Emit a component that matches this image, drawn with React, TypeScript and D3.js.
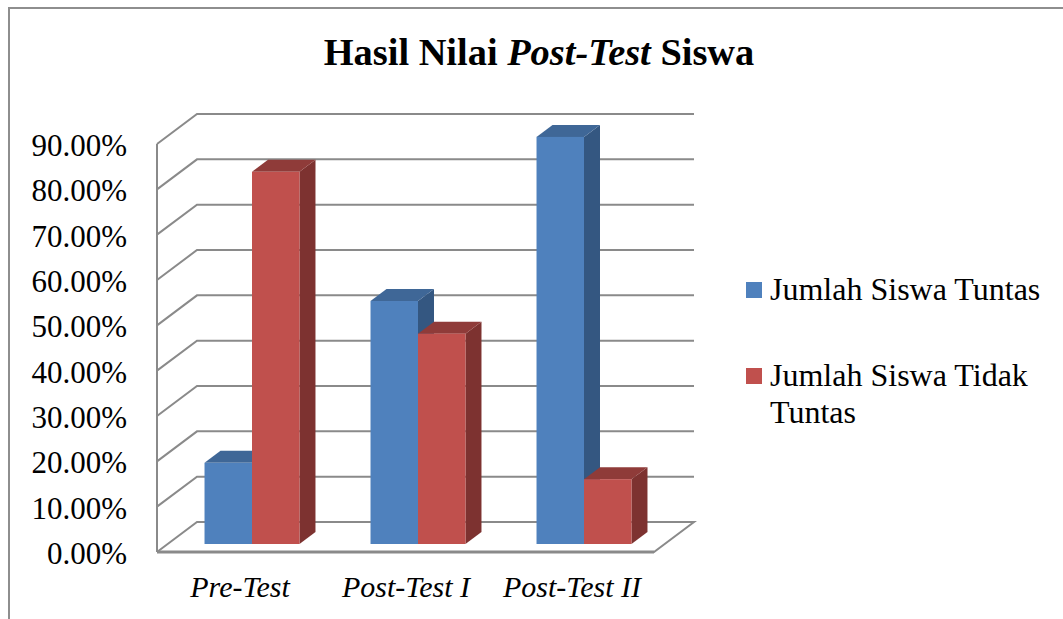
import React from "react";
import * as d3 from "d3";

const categories = ["Pre-Test", "Post-Test I", "Post-Test II"];
const seriesNames = ["Jumlah Siswa Tuntas", "Jumlah Siswa Tidak Tuntas"];
const tuntas = [17.9, 53.6, 89.8];
const tidakTuntas = [82.1, 46.4, 14.3];
const ticks = [0, 10, 20, 30, 40, 50, 60, 70, 80, 90];

const FONT = "'Liberation Serif', 'Times New Roman', serif";
const GRID = "#8a8a8a";
const COLORS = [
  { front: "#4f81bd", top: "#3f6797", side: "#345781" },
  { front: "#c0504d", top: "#8f3b39", side: "#7d3230" },
];

// wall plane (front-left edge of the 3D box)
const yWall = d3.scaleLinear().domain([0, 90]).range([552, 144]);
// plane the bars stand on
const yBar = d3.scaleLinear().domain([0, 90]).range([544, 136]);
const xGroup = d3.scaleBand<string>().domain(categories).range([169, 667]).paddingInner(0.428).paddingOuter(0.214);
const xSeries = d3.scaleBand<number>().domain([0, 1]).range([0, xGroup.bandwidth()]);

const WALL_X = 157;
const FLOOR_R = 654;
const DX = 40;
const DY = -30;
const BAR_DX = 16;
const BAR_DY = -12;

const poly = (pts: [number, number][]) => pts.map((p) => p.join(",")).join(" ");

export default function App() {
  const bars = categories.flatMap((c, i) =>
    [tuntas[i], tidakTuntas[i]].map((v, s) => ({ c, v, s, x: (xGroup(c) ?? 0) + (xSeries(s) ?? 0) }))
  );
  const w = xSeries.bandwidth();
  return (
    <svg
      width={1063}
      height={619}
      style={{ position: "absolute", left: 0, top: 0, background: "#fff", display: "block" }}
      fontFamily={FONT}
    >
      <path d="M9,619 V8 H1063" fill="none" stroke="#8e8e8e" strokeWidth={2} />
      <text x={539} y={65} textAnchor="middle" fontSize={38.4} fontWeight="bold" fill="#000">
        Hasil Nilai <tspan fontStyle="italic">Post-Test</tspan> Siswa
      </text>

      {/* gridlines */}
      {ticks.map((t) => {
        const y = yWall(t);
        return t === 0 ? (
          <polyline
            key={t}
            points={poly([
              [WALL_X, y],
              [WALL_X + DX, y + DY],
              [FLOOR_R + DX, y + DY],
              [FLOOR_R, y],
              [WALL_X, y],
            ])}
            fill="#fff"
            stroke={GRID}
            strokeWidth={2}
          />
        ) : (
          <polyline
            key={t}
            points={poly([
              [WALL_X, y],
              [WALL_X + DX, y + DY],
              [FLOOR_R + DX, y + DY],
            ])}
            fill="none"
            stroke={GRID}
            strokeWidth={2}
          />
        );
      })}
      <line x1={WALL_X} x2={WALL_X} y1={yWall(90)} y2={yWall(0)} stroke={GRID} strokeWidth={2} />
      <line x1={WALL_X} x2={FLOOR_R} y1={yWall(0)} y2={yWall(0)} stroke={GRID} strokeWidth={3} />

      {/* tick labels */}
      {ticks.map((t) => (
        <text key={t} x={127} y={yWall(t) + 12} textAnchor="end" fontSize={31} fill="#000">
          {t.toFixed(2)}%
        </text>
      ))}

      {/* bars */}
      {bars.map((b) => {
        const top = yBar(b.v);
        const base = yBar(0);
        const col = COLORS[b.s];
        return (
          <g key={b.c + b.s}>
            <polygon
              points={poly([
                [b.x + w, top],
                [b.x + w + BAR_DX, top + BAR_DY],
                [b.x + w + BAR_DX, base + BAR_DY],
                [b.x + w, base],
              ])}
              fill={col.side}
            />
            <polygon
              points={poly([
                [b.x, top],
                [b.x + BAR_DX, top + BAR_DY],
                [b.x + w + BAR_DX, top + BAR_DY],
                [b.x + w, top],
              ])}
              fill={col.top}
            />
            <rect x={b.x} y={top} width={w} height={base - top} fill={col.front} />
          </g>
        );
      })}

      {/* category labels */}
      {categories.map((c) => (
        <text
          key={c}
          x={(xGroup(c) ?? 0) + xGroup.bandwidth() / 2 - 12}
          y={597}
          textAnchor="middle"
          fontSize={30}
          fontStyle="italic"
          fill="#000"
        >
          {c}
        </text>
      ))}

      {/* legend */}
      <rect x={746} y={282} width={16} height={16} fill={COLORS[0].front} />
      <text x={770} y={300} fontSize={32} fill="#000">{seriesNames[0]}</text>
      <rect x={746} y={368} width={16} height={16} fill={COLORS[1].front} />
      <text x={770} y={386} fontSize={32} fill="#000">Jumlah Siswa Tidak</text>
      <text x={770} y={423} fontSize={32} fill="#000">Tuntas</text>
    </svg>
  );
}
